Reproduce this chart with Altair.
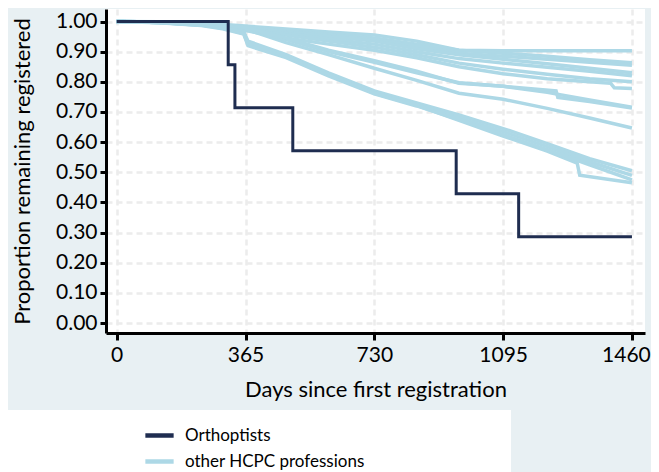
import altair as alt
import pandas as pd

# ---------------- data ----------------
ortho_days = [0, 316, 335, 499, 962, 1139, 1460]
ortho_vals = [1.000, 0.857, 0.714, 0.571, 0.429, 0.286, 0.286]

std_days = [0, 120, 240, 365, 480, 600, 730, 850, 970, 1095, 1220, 1340, 1460]
t1 = [1.000, 0.999, 0.995, 0.985, 0.975, 0.965, 0.955, 0.935, 0.905, 0.903, 0.903, 0.903, 0.903]
t2 = [1.000, 0.998, 0.993, 0.982, 0.970, 0.958, 0.945, 0.925, 0.905, 0.895, 0.885, 0.873, 0.863]
t7 = [1.000, 0.998, 0.992, 0.980, 0.968, 0.955, 0.940, 0.918, 0.895, 0.885, 0.875, 0.865, 0.855]
t3 = [1.000, 0.998, 0.992, 0.980, 0.965, 0.950, 0.935, 0.910, 0.890, 0.875, 0.860, 0.845, 0.830]
t4 = [1.000, 0.998, 0.990, 0.977, 0.960, 0.942, 0.925, 0.900, 0.877, 0.862, 0.848, 0.835, 0.820]
t5 = [1.000, 0.997, 0.990, 0.974, 0.955, 0.935, 0.915, 0.890, 0.862, 0.842, 0.825, 0.810, 0.800]
m1 = [1.000, 0.998, 0.990, 0.975, 0.930, 0.890, 0.845, 0.805, 0.762, 0.742, 0.712, 0.680, 0.647]
m2 = [1.000, 0.998, 0.992, 0.978, 0.940, 0.900, 0.865, 0.830, 0.797, 0.785, 0.765, 0.740, 0.716]

t6_days = [0, 120, 240, 365, 480, 600, 730, 850, 970, 1095, 1220, 1340, 1400, 1410, 1460]
t6 = [1.000, 0.997, 0.988, 0.970, 0.945, 0.925, 0.905, 0.880, 0.850, 0.827, 0.810, 0.800, 0.795, 0.780, 0.778]

m3_days = [0, 120, 240, 365, 480, 600, 730, 850, 970, 1095, 1245, 1250, 1340, 1460]
m3 = [1.000, 0.998, 0.992, 0.980, 0.945, 0.905, 0.870, 0.835, 0.795, 0.785, 0.770, 0.748, 0.735, 0.713]

low_days = [0, 120, 240, 300, 360, 372, 480, 600, 730, 850, 970, 1095, 1220, 1340, 1460]
l1 = [1.000, 0.997, 0.990, 0.982, 0.965, 0.935, 0.890, 0.830, 0.770, 0.730, 0.690, 0.645, 0.595, 0.545, 0.505]
l2 = [1.000, 0.997, 0.988, 0.978, 0.960, 0.925, 0.885, 0.825, 0.765, 0.725, 0.680, 0.635, 0.585, 0.535, 0.490]
l4 = [1.000, 0.996, 0.987, 0.976, 0.958, 0.920, 0.880, 0.820, 0.760, 0.720, 0.675, 0.625, 0.575, 0.525, 0.475]

l3_days = [0, 120, 240, 300, 360, 372, 480, 600, 730, 850, 970, 1095, 1220, 1305, 1312, 1460]
l3 = [1.000, 0.997, 0.989, 0.980, 0.962, 0.930, 0.885, 0.825, 0.762, 0.722, 0.672, 0.620, 0.570, 0.530, 0.490, 0.465]

x_ticks = [0, 365, 730, 1095, 1460]
y_ticks = [0.0, 0.1, 0.2, 0.3, 0.4, 0.5, 0.6, 0.7, 0.8, 0.9, 1.0]
group_names = ["Orthoptists", "other HCPC professions"]
group_colors = ["#1f2d50", "#add8e6"]

# ---------------- tables ----------------
others = [
    ("t1", std_days, t1), ("t2", std_days, t2), ("t7", std_days, t7),
    ("t3", std_days, t3), ("t4", std_days, t4), ("t5", std_days, t5),
    ("t6", t6_days, t6), ("m1", std_days, m1), ("m2", std_days, m2),
    ("m3", m3_days, m3), ("l1", low_days, l1), ("l2", low_days, l2),
    ("l3", l3_days, l3), ("l4", low_days, l4),
]
rows = []
for name, ds, vs in others:
    for i, (d, v) in enumerate(zip(ds, vs)):
        rows.append({"day": d, "value": v, "curve": name, "i": i, "group": group_names[1]})
df_other = pd.DataFrame(rows)
df_ortho = pd.DataFrame({"day": ortho_days, "value": ortho_vals, "group": group_names[0]})

FONT = "Lato"

x_axis = alt.Axis(values=x_ticks, title="Days since first registration",
                  format="d", titleY=63, titleBaseline="alphabetic",
                  labelOverlap=False, labelFlush=False, labelBound=False,
                  labelOffset={"condition": {"test": "datum.value >= 1460", "value": -6}, "value": 0})
y_axis = alt.Axis(values=y_ticks, format=".2f", title="Proportion remaining registered",
                  titleX=-77, titleBaseline="alphabetic",
                  labelOverlap=False, labelFlush=False, labelBound=False)
x_scale = alt.Scale(domain=[-30.3, 1497], nice=False, zero=False)
y_scale = alt.Scale(domain=[-0.033, 1.0415], nice=False, zero=False)

color_enc = alt.Color("group:N",
                      scale=alt.Scale(domain=group_names, range=group_colors),
                      legend=alt.Legend(title=None, orient="none", legendX=37, legendY=410,
                                        symbolType="stroke", symbolStrokeWidth=4.5, symbolSize=800,
                                        labelFontSize=17, labelFont=FONT, labelColor="black",
                                        labelOffset=9, labelLimit=400, rowPadding=0, padding=0))

panel = alt.Chart(pd.DataFrame({"k": [0]})).mark_rect(color="white").encode(
    x=alt.value(-98), x2=alt.value(405), y=alt.value(401), y2=alt.value(470))

others_layer = alt.Chart(df_other).mark_line(strokeWidth=3.5).encode(
    x=alt.X("day:Q", scale=x_scale, axis=x_axis),
    y=alt.Y("value:Q", scale=y_scale, axis=y_axis),
    color=color_enc, detail="curve:N", order="i:Q")

ortho_layer = alt.Chart(df_ortho).mark_line(interpolate="step-after", strokeWidth=3).encode(
    x=alt.X("day:Q", scale=x_scale, axis=x_axis),
    y=alt.Y("value:Q", scale=y_scale, axis=y_axis),
    color=color_enc)

chart = alt.layer(panel, others_layer, ortho_layer).properties(
    width=539, height=324,
    padding={"left": 98, "top": 1, "right": 6, "bottom": 139},
    autosize=alt.AutoSizeParams(type="none"),
    background="#e8f0f3",
).configure_view(fill="white", stroke=None).configure_axis(
    domainColor="black", domainWidth=3, tickColor="black", tickWidth=3, tickSize=6,
    labelFont=FONT, labelFontSize=21, labelColor="black", labelPadding=3,
    labelOverlap=False,
    titleFont=FONT, titleFontSize=22, titleColor="black", titleFontWeight="normal",
    gridColor="#ececec", gridWidth=2.5, gridDash=[6, 4],
).configure_axisX(labelPadding=4, tickSize=7)

chart.save("out.html", embed_options={"renderer": "svg", "actions": False})
